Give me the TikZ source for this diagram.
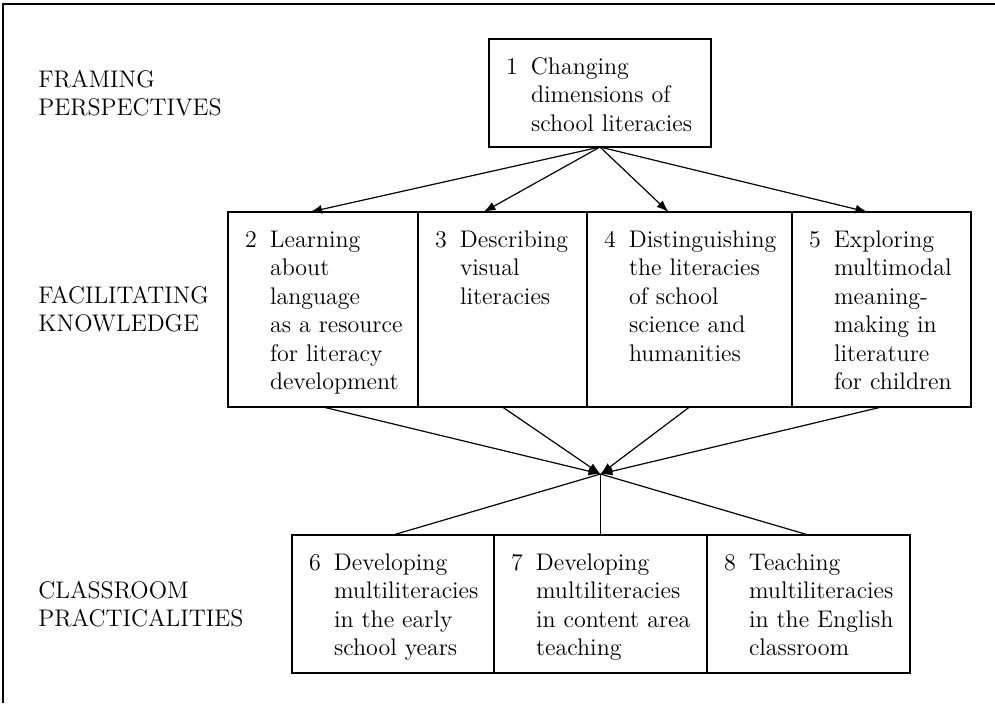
\documentclass[tikz,border=0pt]{standalone}
\usepackage{fontspec}
\usetikzlibrary{positioning,calc,arrows.meta}

% number hanging in front of the lines of a box
\newcommand{\entry}[2]{\begin{tabular}[t]{@{}p{12.5pt}@{}l@{}}#1 & \begin{tabular}[t]{@{}l@{}}#2\end{tabular}\end{tabular}}

\begin{document}
\begin{tikzpicture}[
    x=0.5pt, y=-0.5pt,
    every node/.style={font=\fontsize{12}{14.25}\selectfont},
    box/.style={rectangle, draw, line width=0.7pt, outer sep=0pt, inner xsep=8.5pt, inner ysep=0pt, align=left, text height=17.5pt},
    stage/.style={anchor=west, inner sep=0pt, align=left},
    arrow/.style={-{Latex[length=6pt, width=4.4pt]}, line width=0.6pt},
    link/.style={line width=0.6pt}
]
\useasboundingbox (0,0) rectangle (995,703);

% frame
\draw[line width=1.4pt] (3,703) -- (3,4) -- (995,4);

% levels
\node[stage] (frame) at (38,93) {FRAMING\\PERSPECTIVES};
\node[stage] (facil) at (38,309) {FACILITATING\\KNOWLEDGE};
\node[stage] (class) at (38,604) {CLASSROOM\\PRACTICALITIES};

% top
\node[box, anchor=north west, text width=94pt, text depth=36.5pt] (b1) at (489,39)
    {\entry{1}{Changing\\dimensions of\\school literacies}};

% middle row
\node[box, anchor=north west, text width=78pt, text depth=80pt] (b2) at (228,212)
    {\entry{2}{Learning\\about\\language\\as a resource\\for literacy\\development}};
\node[box, right=0pt of b2, text width=67.5pt, text depth=80pt] (b3)
    {\entry{3}{Describing\\visual\\literacies}};
\node[box, right=0pt of b3, text width=85.5pt, text depth=80pt] (b4)
    {\entry{4}{Distinguishing\\the literacies\\of school\\science and\\humanities}};
\node[box, right=0pt of b4, text width=72.5pt, text depth=80pt] (b5)
    {\entry{5}{Exploring\\multimodal\\meaning-\\making in\\literature\\for children}};

% bottom row
\node[box, anchor=north west, text width=84pt, text depth=51.5pt] (b6) at (292,535)
    {\entry{6}{Developing\\multiliteracies\\in the early\\school years}};
\node[box, right=0pt of b6, text width=89.5pt, text depth=51.5pt] (b7)
    {\entry{7}{Developing\\multiliteracies\\in content area\\teaching}};
\node[box, right=0pt of b7, text width=84.5pt, text depth=51.5pt] (b8)
    {\entry{8}{Teaching\\multiliteracies\\in the English\\classroom}};

\coordinate (meet) at (b7.north |- 0,474);

\foreach \n/\dx in {b2/-6.5pt, b3/-9.5pt, b4/-10.5pt, b5/-7pt}
    \draw[arrow] (b1.south) -- ([xshift=\dx]\n.north);
\foreach \n in {b2,b3,b4,b5}
    \draw[arrow] (\n.south) -- (meet);
\foreach \n in {b6,b7,b8}
    \draw[link] (meet) -- (\n.north);

\end{tikzpicture}
\end{document}
